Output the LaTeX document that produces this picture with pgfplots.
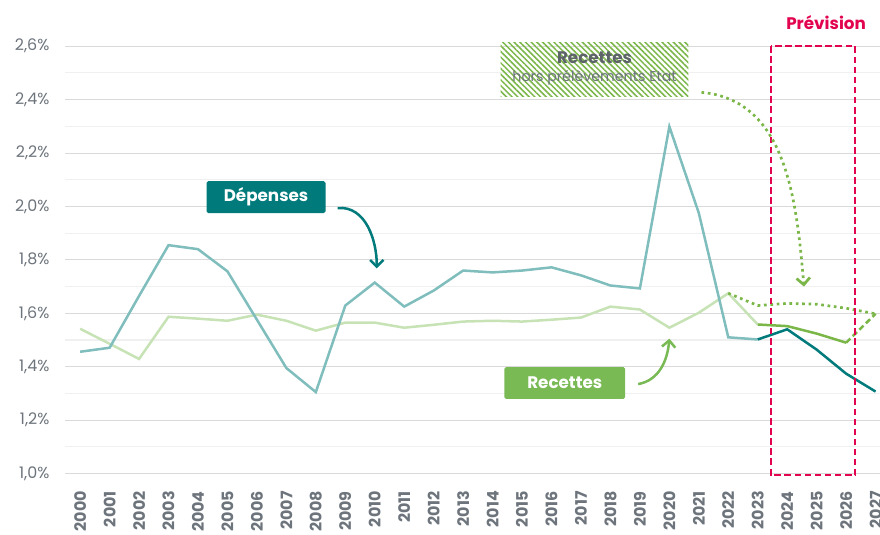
\documentclass[border=0pt]{standalone}
\usepackage{fontspec}
\setmainfont{Poppins}
\usepackage{pgfplots}
\pgfplotsset{compat=1.18}
\usetikzlibrary{arrows.meta,patterns.meta}

\definecolor{tealL}{HTML}{80BDBD}
\definecolor{tealD}{HTML}{007A7B}
\definecolor{greenL}{HTML}{C7E3B6}
\definecolor{greenM}{HTML}{7AB648}
\definecolor{greenB}{HTML}{79BA55}
\definecolor{redP}{HTML}{E2044F}
\definecolor{txt}{HTML}{6D747C}
\definecolor{gmaj}{HTML}{DADADA}
\definecolor{gmin}{HTML}{F0F0F0}

\begin{document}
\begin{tikzpicture}
\begin{axis}[
    scale only axis,
    width=486pt, height=255pt,
    xmin=1999.5, xmax=2027.15,
    ymin=1.0, ymax=2.6,
    axis line style={draw=none},
    major tick length=0pt, minor tick length=0pt,
    xtick={2000,2001,2002,2003,2004,2005,2006,2007,2008,2009,2010,2011,2012,2013,2014,2015,2016,2017,2018,2019,2020,2021,2022,2023,2024,2025,2026,2027},
    xticklabels={2000,2001,2002,2003,2004,2005,2006,2007,2008,2009,2010,2011,2012,2013,2014,2015,2016,2017,2018,2019,2020,2021,2022,2023,2024,2025,2026,2027},
    ytick={1.0,1.2,1.4,1.6,1.8,2.0,2.2,2.4,2.6},
    yticklabels={{1,0\%},{1,2\%},{1,4\%},{1,6\%},{1,8\%},{2,0\%},{2,2\%},{2,4\%},{2,6\%}},
    minor ytick={1.1,1.3,1.5,1.7,1.9,2.1,2.3,2.5},
    ymajorgrids, yminorgrids,
    major grid style={gmaj, line width=0.6pt},
    minor grid style={gmin, line width=0.6pt},
    yticklabel style={font=\fontsize{9.5}{11}\selectfont, text=txt, xshift=-6pt},
    xticklabel style={yshift=-7pt, rotate=90, anchor=east, font=\fontsize{9.5}{11}\selectfont\bfseries, text=txt},
    clip=false,
]

% Recettes
\addplot[greenL, line width=1.5pt] coordinates {
    (2000,1.542) (2001,1.486) (2002,1.429) (2003,1.587) (2004,1.580)
    (2005,1.572) (2006,1.595) (2007,1.572) (2008,1.535) (2009,1.565)
    (2010,1.565) (2011,1.546) (2012,1.557) (2013,1.569) (2014,1.572)
    (2015,1.569) (2016,1.576) (2017,1.584) (2018,1.625) (2019,1.614)
    (2020,1.546) (2021,1.602) (2022,1.675) (2023,1.558)
};
\addplot[greenM, line width=1.5pt] coordinates {
    (2023,1.558) (2024,1.552) (2025,1.524) (2026,1.490)
};
\addplot[greenM, line width=1.5pt, dash pattern=on 3.5pt off 2pt] coordinates {
    (2026,1.490) (2027,1.598)
};
% Recettes hors prelevements Etat
\addplot[greenM, line width=1.6pt, dash pattern=on 1.6pt off 2.2pt] coordinates {
    (2022,1.675) (2023,1.629) (2024,1.637) (2025,1.634) (2026,1.619) (2027,1.598)
};

% Depenses
\addplot[tealL, line width=1.5pt] coordinates {
    (2000,1.456) (2001,1.471) (2002,1.665) (2003,1.855) (2004,1.840)
    (2005,1.757) (2006,1.576) (2007,1.395) (2008,1.305) (2009,1.629)
    (2010,1.715) (2011,1.625) (2012,1.685) (2013,1.760) (2014,1.753)
    (2015,1.760) (2016,1.772) (2017,1.742) (2018,1.704) (2019,1.693)
    (2020,2.299) (2021,1.975) (2022,1.510) (2023,1.502)
};
\addplot[tealD, line width=1.5pt] coordinates {
    (2023,1.502) (2024,1.540) (2025,1.464) (2026,1.374) (2027,1.307)
};

% Prevision
\draw[redP, line width=1.2pt, dash pattern=on 4pt off 2pt]
    (axis cs:2023.45,2.6) rectangle (axis cs:2026.31,0.994);
\node[redP, font=\fontsize{10}{12}\selectfont\bfseries] at (axis cs:2025.32,2.69) {Prévision};

% annotations
\node[fill=tealD, text=white, rounded corners=1pt, minimum width=71pt, minimum height=19pt,
      inner sep=0pt, font=\fontsize{10}{12}\selectfont\bfseries]
    at (axis cs:2006.31,2.035) {Dépenses};
\draw[tealD, line width=1.5pt, -{Straight Barb[length=4pt,width=8pt]}]
    (axis cs:2008.74,1.994) to[out=5,in=90] (axis cs:2010.07,1.768);

\node[fill=greenB, text=white, rounded corners=1pt, minimum width=72pt, minimum height=19pt,
      inner sep=0pt, font=\fontsize{10}{12}\selectfont\bfseries]
    at (axis cs:2016.45,1.339) {Recettes};
\draw[greenB, line width=1.5pt, -{Straight Barb[length=4pt,width=8pt]}]
    (axis cs:2018.94,1.335) to[out=10,in=-95] (axis cs:2020.0,1.505);

\node[pattern={Lines[angle=-45,distance=2.4pt,line width=0.9pt]}, pattern color=greenM,
      minimum width=112pt, minimum height=32pt, inner sep=0pt]
    at (axis cs:2017.46,2.512) {};
\node[text=txt!85!black, font=\fontsize{10}{12}\selectfont\bfseries] at (axis cs:2017.46,2.555) {Recettes};
\node[text=txt, font=\fontsize{8.5}{10}\selectfont] at (axis cs:2017.46,2.483) {hors prélèvements Etat};
\draw[greenM, line width=1.6pt, dash pattern=on 1.6pt off 2.2pt, -{Straight Barb[length=4pt,width=8pt]}]
    (axis cs:2021.09,2.427) to[out=-5,in=95] (axis cs:2024.57,1.70);

\coordinate (cbl) at (rel axis cs:-0.0803,-0.1435);
\coordinate (ctr) at (rel axis cs:1.0,1.108);
\end{axis}
\pgfresetboundingbox
\useasboundingbox (cbl) rectangle (ctr);
\end{tikzpicture}
\end{document}
